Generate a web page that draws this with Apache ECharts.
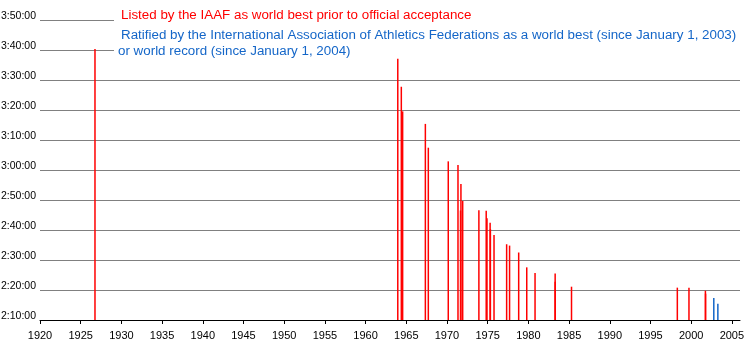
<!DOCTYPE html>
<html>
<head>
<meta charset="utf-8">
<script src="https://cdn.jsdelivr.net/npm/echarts@6/dist/echarts.min.js"></script>
<style>
html,body{margin:0;padding:0;background:#fff;}
#chart{width:750px;height:340px;}
</style>
</head>
<body>
<div id="chart"></div>
<script>
// Women's marathon best performances (decimal year, time h:mm:ss)
const listedYears = [1926.755, 1963.956, 1964.390, 1964.553, 1967.344, 1967.708, 1970.159, 1971.353, 1971.664, 1971.715, 1971.930, 1973.920, 1974.820, 1974.915, 1975.300, 1975.334, 1975.780, 1977.330, 1977.690, 1978.810, 1979.800, 1980.820, 1983.290, 1983.293, 1985.300, 1998.300, 1999.730, 2001.750, 2001.770];
const listedTimes = ["3:40:22", "3:37:07", "3:27:45", "3:19:33", "3:15:22", "3:07:26", "3:02:53", "3:01:42", "2:46:30", "2:55:22", "2:49:40", "2:46:36", "2:46:24", "2:43:54", "2:42:24", "2:40:16", "2:38:19", "2:35:15", "2:34:48", "2:32:30", "2:27:33", "2:25:41", "2:25:29", "2:22:43", "2:21:06", "2:20:47", "2:20:43", "2:19:46", "2:18:47"];
const ratifiedYears = [2002.780, 2003.280];
const ratifiedTimes = ["2:17:18", "2:15:25"];

const xTicks = [1920, 1925, 1930, 1935, 1940, 1945, 1950, 1955, 1960, 1965, 1970, 1975, 1980, 1985, 1990, 1995, 2000, 2005];
const yTickLabels = ["2:10:00", "2:20:00", "2:30:00", "2:40:00", "2:50:00", "3:00:00", "3:10:00", "3:20:00", "3:30:00", "3:40:00", "3:50:00"];

const legendListed = "Listed by the IAAF as world best prior to official acceptance";
const legendRatified1 = "Ratified by the International Association of Athletics Federations as a world best (since January 1, 2003)";
const legendRatified2 = "or world record (since January 1, 2004)";

const RED = "#ff0000";
const BLUE = "#1466c8";
const FONT = "Liberation Sans, Arial, sans-serif";
const STRETCH = 1.114;

function toSec(s) {
  const p = s.split(":").map(Number);
  return p[0] * 3600 + p[1] * 60 + p[2];
}
function fmt(v) {
  const h = Math.floor(v / 3600);
  const m = Math.floor((v % 3600) / 60);
  const s = Math.round(v % 60);
  return h + ":" + String(m).padStart(2, "0") + ":" + String(s).padStart(2, "0");
}
const yMin = toSec(yTickLabels[0]);
const yMax = toSec(yTickLabels[yTickLabels.length - 1]);

function makeRender(color) {
  return function (params, api) {
    const top = api.coord([api.value(0), api.value(1)]);
    const base = api.coord([api.value(0), yMin]);
    return {
      type: "rect",
      shape: { x: top[0] - 0.75, y: top[1], width: 1.5, height: base[1] - top[1] },
      style: { fill: color }
    };
  };
}

const chart = echarts.init(document.getElementById("chart"), null, { renderer: "canvas" });
chart.setOption({
  animation: false,
  backgroundColor: "#fff",
  grid: { left: 40, right: 10, top: 20, bottom: 20, containLabel: false, outerBoundsMode: "none" },
  xAxis: {
    type: "value",
    min: 1920,
    max: 2006,
    splitLine: { show: false },
    axisLine: { show: true, lineStyle: { color: "#000", width: 1 } },
    axisTick: { show: true, length: 4, lineStyle: { color: "#000" }, customValues: xTicks },
    axisLabel: { color: "#000", fontFamily: FONT, fontSize: 11, margin: 10, customValues: xTicks, formatter: v => String(v), hideOverlap: false }
  },
  yAxis: {
    type: "value",
    min: yMin,
    max: yMax,
    interval: 600,
    axisLine: { show: false },
    axisTick: { show: false },
    splitLine: { show: true, lineStyle: { color: "#808080", width: 1 } },
    axisLabel: {
      color: "#000", fontFamily: FONT, fontSize: 10.5, margin: 4,
      verticalAlign: "bottom", lineHeight: 7,
      formatter: v => fmt(v)
    }
  },
  series: [
    {
      type: "custom",
      z: 5,
      renderItem: makeRender(RED),
      data: listedYears.map((y, i) => [y, toSec(listedTimes[i])])
    },
    {
      type: "custom",
      z: 5,
      renderItem: makeRender(BLUE),
      data: ratifiedYears.map((y, i) => [y, toSec(ratifiedTimes[i])])
    }
  ],
  graphic: [
    { type: "rect", z: 50, shape: { x: 114, y: 5, width: 636, height: 50 }, style: { fill: "#fff" } },
    { type: "text", z: 60, x: 121, y: 15.5, scaleX: STRETCH, style: { text: legendListed, fill: RED, font: "12px " + FONT, verticalAlign: "middle" } },
    { type: "text", z: 60, x: 121, y: 35.5, scaleX: STRETCH, style: { text: legendRatified1, fill: BLUE, font: "12px " + FONT, verticalAlign: "middle" } },
    { type: "text", z: 60, x: 118, y: 52, scaleX: STRETCH, style: { text: legendRatified2, fill: BLUE, font: "12px " + FONT, verticalAlign: "middle" } }
  ]
});
</script>
</body>
</html>
